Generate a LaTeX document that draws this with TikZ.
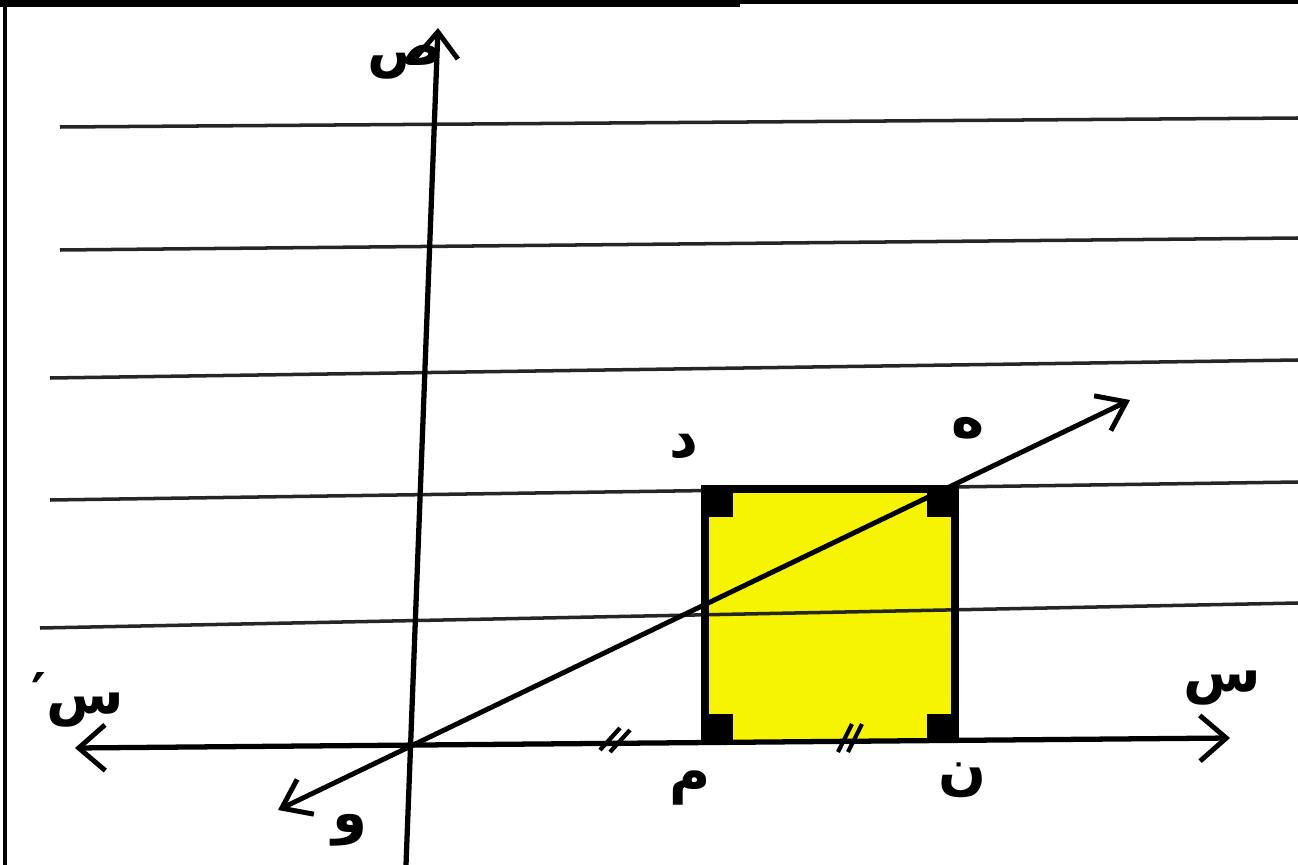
\documentclass[tikz,border=0pt]{standalone}
\usepackage{fontspec}
\usetikzlibrary{arrows.meta}
\newfontfamily\arabicfont[Script=Arabic]{DejaVu Sans}
\TeXXeTstate=1
\definecolor{hlyellow}{RGB}{246,244,0}
\tikzset{
  ruled/.style={line width=2pt,black!85},
  axisline/.style={line width=3pt,black,line cap=round},
  tipbarb/.style={-{Straight Barb[length=15pt,width=24pt,line width=2.8pt]}},
  edge/.style={line width=5pt,black},
  lbl/.style={font=\arabicfont\bfseries\fontsize{32}{34}\selectfont,inner sep=0pt},
  cornermark/.style={fill=black},
  tickmark/.style={line width=2.4pt,black}
}
\begin{document}
\begin{tikzpicture}[x=0.02cm,y=-0.02cm]
\useasboundingbox (0,0) rectangle (1298,865);
\fill[white] (0,0) rectangle (1298,865);
% page border
\draw[line width=5pt] (0,3) -- (740,3);
\draw[line width=1.8pt] (740,2) -- (1298,2);
\draw[line width=1.8pt] (5,0) -- (5,865);
% ruled lines
\draw[ruled] (60,127) -- (1298,118);
\draw[ruled] (60,250) -- (1298,238);
\draw[ruled] (50,378) -- (1298,360);
\draw[ruled] (50,500) -- (1298,482);
% square
\coordinate (A) at (705,740);
\coordinate (B) at (955,740);
\coordinate (C) at (955,489);
\coordinate (D) at (705,489);
\fill[hlyellow] (A) -- (B) -- (C) -- (D) -- cycle;
\draw[ruled] (40,628) -- (1298,603);
\draw[edge] (A) -- (D) -- (C) -- (B);
\fill[cornermark] (D) rectangle +(28,28);
\fill[cornermark] (C) rectangle +(-28,28);
\fill[cornermark] (A) rectangle +(28,-26);
\fill[cornermark] (B) rectangle +(-28,-26);
% axes
\coordinate (xl) at (75,748);
\coordinate (xr) at (1230,738);
\coordinate (yb) at (406,865);
\coordinate (yt) at (438,28);
\draw[axisline,{Straight Barb[length=15pt,width=26pt,line width=2.8pt]}-{Straight Barb[length=15pt,width=26pt,line width=2.8pt]}] (xl) -- (xr);
\draw[axisline,tipbarb] (yb) -- (yt);
% line through origin
\coordinate (O) at (418,743);
\coordinate (r1) at (1130,400);
\coordinate (r2) at (278,810);
\draw[line width=2.8pt,{Straight Barb[length=15pt,width=22pt,line width=2.8pt]}-{Straight Barb[length=15pt,width=22pt,line width=2.8pt]}] (r2) -- (r1);
% tick marks
\draw[tickmark] (600,750) -- (620,728);
\draw[tickmark] (610,752) -- (630,730) coordinate (t1);
\draw[tickmark] (838,752) -- (852,724);
\draw[tickmark] (848,752) -- (862,724) coordinate (t2);
% labels
\node[lbl] (lD) at (684,447) {\beginR د\endR};
\node[lbl] (lH) at (968,428) {\beginR ه\endR};
\node[lbl] (lM) at (690,788) {\beginR م\endR};
\node[lbl] (lN) at (962,780) {\beginR ن\endR};
\node[lbl] (lY) at (405,62) {\beginR ص\endR};
\node[lbl] (lX) at (1222,688) {\beginR س\endR};
\node[lbl] (lXp) at (78,700) {\beginR س′\endR};
\node[lbl] (lO) at (350,830) {\beginR و\endR};
\end{tikzpicture}
\end{document}
